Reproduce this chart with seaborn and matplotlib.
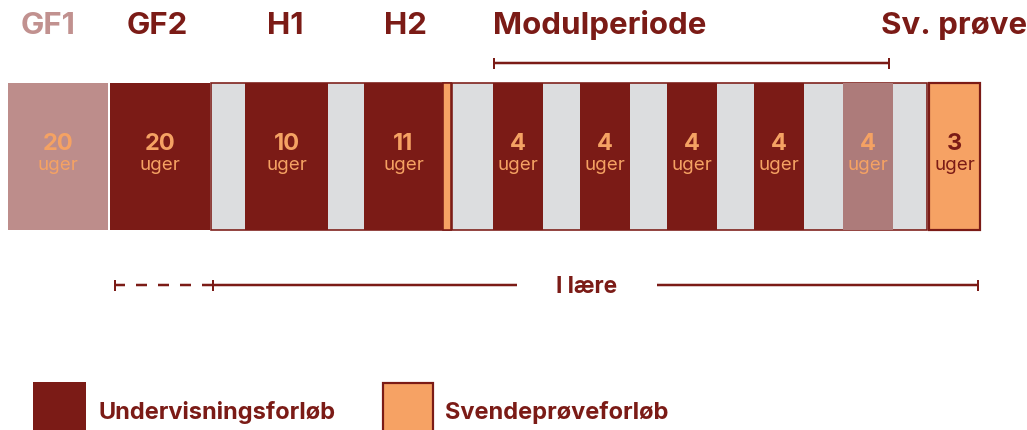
import matplotlib
matplotlib.use("Agg")
import matplotlib.pyplot as plt
import seaborn as sns
import pandas as pd

# ---- data ----
periods = ["GF1", "GF2", "H1", "H2", "M1", "M2", "M3", "M4", "M5", "Sv. prøve"]
weeks = [20, 20, 10, 11, 4, 4, 4, 4, 4, 3]
unit_label = "uger"
headers = ["GF1", "GF2", "H1", "H2", "Modulperiode", "Sv. prøve"]
bottom_label = "I lære"
legend_labels = ["Undervisningsforløb", "Svendeprøveforløb"]

# ---- layout (pixel space of a 1027x430 canvas) ----
seg_left = [8, 110, 245, 364, 493, 580, 667, 754, 843, 929]
seg_right = [108, 210, 328, 443, 543, 630, 717, 804, 893, 980]
seg_kind = ["faded", "dark", "dark", "dark", "dark", "dark", "dark", "dark", "muted", "exam"]
block_spans = [(211, 451), (452, 927)]
strip_span = (443, 451)
bar_top, bar_bot = 83, 230
header_x = [48, 157, 285, 405, 493, 954]
header_ha = ["center", "center", "center", "center", "left", "center"]
header_faded = [True, False, False, False, False, False]

DARK = "#7B1B16"
ROSE = "#BD8D8B"
ROSE_TXT = "#C1918F"
MUTED = "#AD7B7A"
GREY = "#DCDDDF"
ORANGE = "#F6A264"
ORANGE_TXT = "#F5A263"

sns.set_theme(style="white")
plt.rcParams["font.family"] = ["Inter", "DejaVu Sans"]

fig = plt.figure(figsize=(10.27, 4.30), dpi=100)
ax = fig.add_axes([0, 0, 1, 1])
ax.set_xlim(0, 1027)
ax.set_ylim(430, 0)
ax.axis("off")

px = 1 / 1.389  # one pixel in points

df = pd.DataFrame({"period": periods, "weeks": weeks, "left": seg_left,
                   "right": seg_right, "kind": seg_kind})
df["width"] = df["right"] - df["left"]
df["center"] = (df["left"] + df["right"]) / 2

# grey blocks with outline
for l, r in block_spans:
    ax.bar(l, bar_bot - bar_top, width=r - l, bottom=bar_top, align="edge",
           color=GREY, edgecolor=DARK, linewidth=1.6 * px, zorder=1)

fill = {"faded": ROSE, "dark": DARK, "muted": MUTED, "exam": ORANGE}
num_col = {"faded": ORANGE_TXT, "dark": ORANGE_TXT, "muted": ORANGE_TXT, "exam": DARK}
for _, row in df.iterrows():
    ec = DARK if row["kind"] == "exam" else "none"
    lw = 2.2 * px if row["kind"] == "exam" else 0
    ax.bar(row["left"], bar_bot - bar_top, width=row["width"], bottom=bar_top,
           align="edge", color=fill[row["kind"]], edgecolor=ec, linewidth=lw, zorder=2)
    ax.text(row["center"], 150, str(row["weeks"]), ha="center", va="baseline",
            fontsize=17, fontweight="bold", color=num_col[row["kind"]], zorder=3)
    ax.text(row["center"], 169.5, unit_label, ha="center", va="baseline",
            fontsize=13.5, color=num_col[row["kind"]], zorder=3)

# thin svendeprøve strip after H2
ax.bar(strip_span[0], bar_bot - bar_top, width=strip_span[1] - strip_span[0],
       bottom=bar_top, align="edge", color=ORANGE, edgecolor=DARK,
       linewidth=1.6 * px, zorder=2)

# headers
for h, x, ha, f in zip(headers, header_x, header_ha, header_faded):
    ax.text(x, 34, h, ha=ha, va="baseline", fontsize=22.5, fontweight="bold",
            color=ROSE_TXT if f else DARK)

LW = 2.5 * px
# Modulperiode bracket
ax.plot([493, 890], [63, 63], color=DARK, lw=LW, solid_capstyle="butt")
for x in (494, 889):
    ax.plot([x, x], [57.5, 68.5], color=DARK, lw=2 * px, solid_capstyle="butt")

# I lære line
y0 = 285
ax.plot([114, 213], [y0, y0], color=DARK, lw=LW, dashes=(11 / 2.5, 11 / 2.5),
        dash_capstyle="butt")
ax.plot([213, 517], [y0, y0], color=DARK, lw=LW, solid_capstyle="butt")
ax.plot([657, 979], [y0, y0], color=DARK, lw=LW, solid_capstyle="butt")
for x in (115, 213, 978):
    ax.plot([x, x], [279.5, 290.5], color=DARK, lw=2 * px, solid_capstyle="butt")
ax.text(587, 293, bottom_label, ha="center", va="baseline", fontsize=16.3,
        fontweight="bold", color=DARK)

# legend
ax.bar(33, 60, width=53, bottom=382, align="edge", color=DARK, edgecolor="none")
ax.bar(383, 60, width=50, bottom=383, align="edge", color=ORANGE, edgecolor=DARK,
       linewidth=2.2 * px)
ax.text(99, 419.5, legend_labels[0], ha="left", va="baseline", fontsize=17,
        fontweight="bold", color=DARK)
ax.text(445, 419.5, legend_labels[1], ha="left", va="baseline", fontsize=17,
        fontweight="bold", color=DARK)

fig.savefig("out.png", dpi=100)
